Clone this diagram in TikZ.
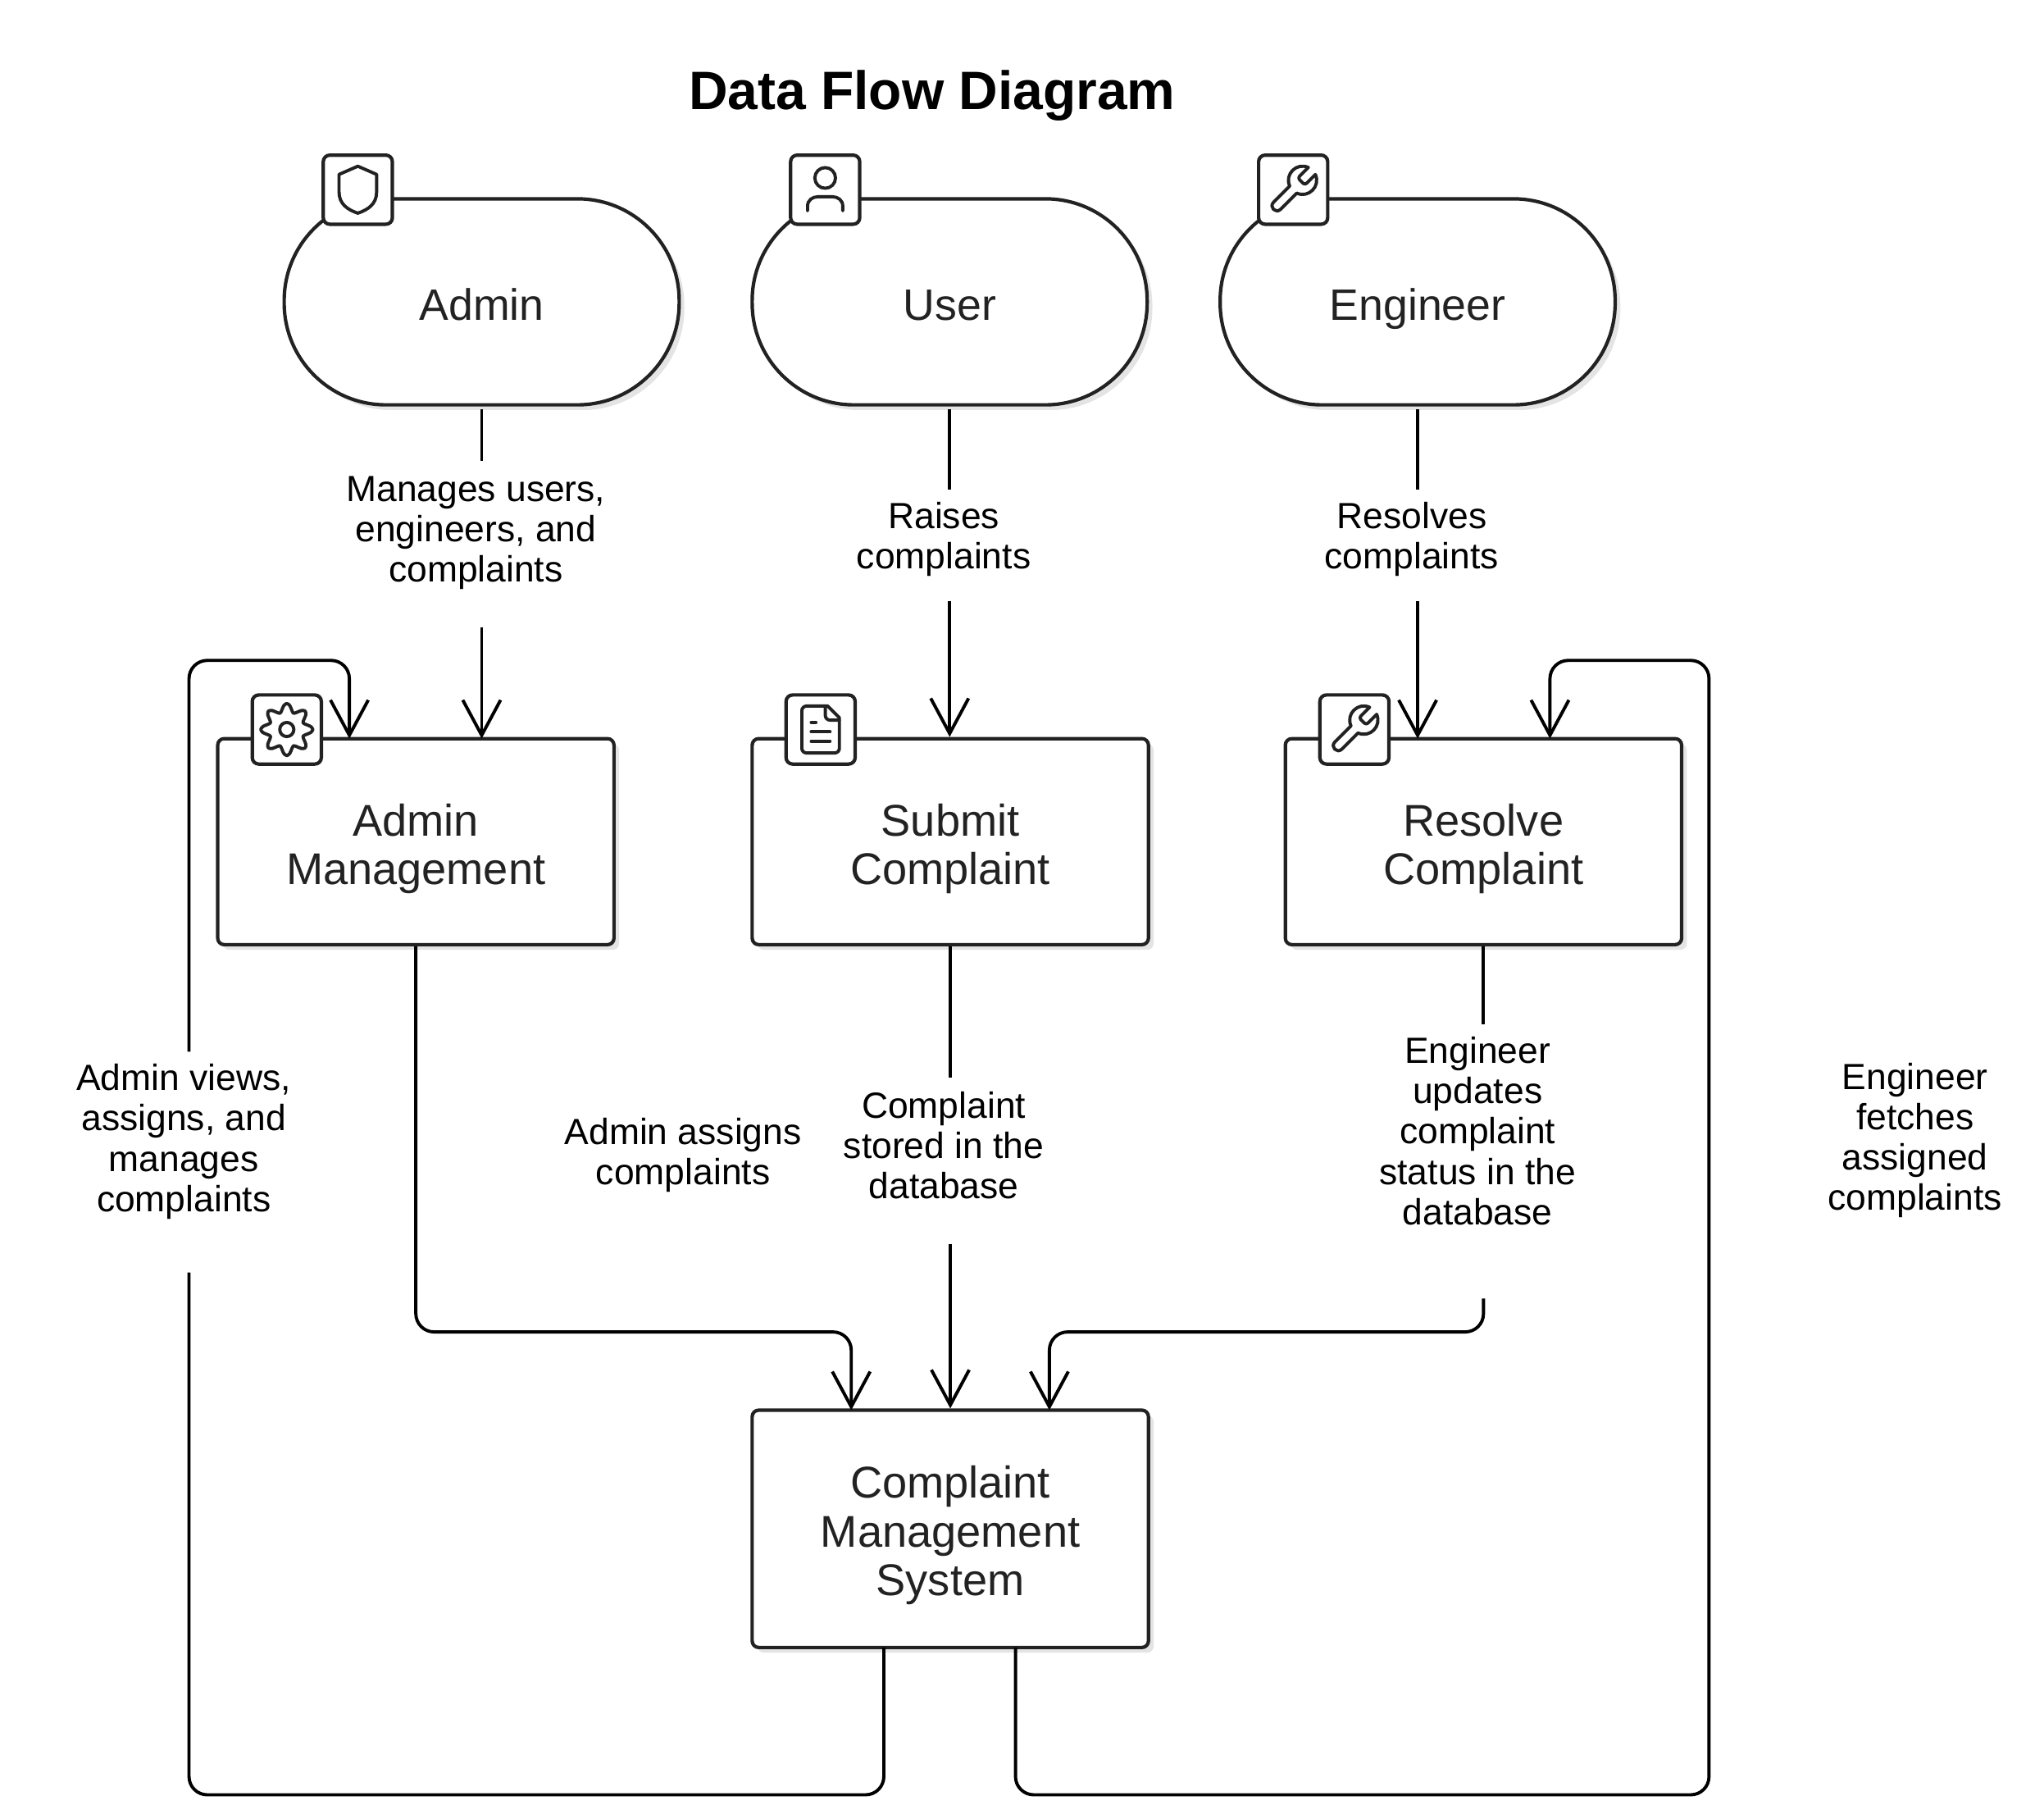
\documentclass[tikz,border=0pt]{standalone}
\usepackage{fontspec}
\setmainfont{Liberation Sans}
\usetikzlibrary{arrows.meta,shadows}

\definecolor{ink}{HTML}{222222}
\definecolor{shade}{HTML}{E4E4E4}

\tikzset{
  boxshadow/.style={general shadow={fill=shade, shadow xshift=0.04cm, shadow yshift=-0.04cm}},
  actor/.style={draw=ink, line width=0.75pt, fill=white, boxshadow, inner sep=0pt, align=center,
    minimum width=3.03cm, minimum height=1.58cm, rounded corners=0.78cm, text=ink,
    text height=0.30cm, text depth=0.02cm, font=\fontsize{9.6}{10.6}\selectfont},
  process/.style={draw=ink, line width=0.75pt, fill=white, boxshadow, inner sep=0pt, align=center,
    minimum width=3.04cm, minimum height=1.58cm, rounded corners=0.05cm, text=ink,
    text height=0.70cm, text depth=0.04cm, font=\fontsize{9.7}{10.6}\selectfont},
  iconbox/.style={draw=ink, line width=0.75pt, fill=white, inner sep=0pt,
    minimum size=0.53cm, rounded corners=0.05cm},
  iconline/.style={draw=ink, line width=0.7pt, line join=round, line cap=round},
  iconat/.style={shift={(#1.center)}, x=0.018cm, y=-0.018cm, shift={(-12,-12)}},
  flowlabel/.style n args={2}{inner xsep=1pt, inner ysep=0pt, align=center, text height=#1, text depth=#2,
    anchor=north, font=\fontsize{7.95}{8.8}\selectfont},
  freelabel/.style={inner sep=0pt, align=center, font=\fontsize{7.95}{8.8}\selectfont},
  flow/.style={line width=0.7pt, rounded corners=0.14cm},
  >={Straight Barb[length=0.27cm, width=0.29cm]}
}

\newcommand{\drawshield}[1]{
  \begin{scope}[iconat=#1]
    \draw [iconline] (20,13) .. controls (20,18) and (16.5,20.5) .. (12,22)
      .. controls (7.5,20.5) and (4,18) .. (4,13) -- (4,5.5) -- (12,2) -- (20,5.5) -- cycle;
  \end{scope}
}
\newcommand{\drawperson}[1]{
  \begin{scope}[iconat=#1]
    \draw [iconline] (12,7) circle [radius=4.4];
    \draw [iconline] (19.5,21) -- (19.5,19) .. controls (19.5,16.5) and (17.5,15) .. (15,15) -- (9,15)
      .. controls (6.5,15) and (4.5,16.5) .. (4.5,19) -- (4.5,21);
  \end{scope}
}
\newcommand{\drawwrench}[1]{
  \begin{scope}[iconat=#1]
    \draw [iconline] (14.7,6.3) .. controls (14.3,6.7) and (14.3,7.3) .. (14.7,7.7) -- (16.3,9.3)
      .. controls (16.7,9.7) and (17.3,9.7) .. (17.7,9.3) -- (21.47,5.53)
      .. controls (23.74,10.57) and (18.57,15.74) .. (13.53,13.47) -- (6.62,20.38)
      .. controls (4.62,22.38) and (1.62,19.38) .. (3.62,17.38) -- (10.53,10.47)
      .. controls (8.26,5.43) and (13.43,0.26) .. (18.47,2.53) -- cycle;
  \end{scope}
}
\newcommand{\drawgear}[1]{
  \begin{scope}[iconat=#1]
    \draw [iconline, shift={(12,12)}] plot [domain=0:352.5, samples=48, smooth cycle] (\x:{9.3+1.8*cos(8*\x)});
    \draw [iconline] (12,12) circle [radius=3];
  \end{scope}
}
\newcommand{\drawpage}[1]{
  \begin{scope}[iconat=#1]
    \draw [iconline] (15,2) -- (6,2) .. controls (4.9,2) and (4,2.9) .. (4,4) -- (4,20)
      .. controls (4,21.1) and (4.9,22) .. (6,22) -- (18,22) .. controls (19.1,22) and (20,21.1) .. (20,20)
      -- (20,7) -- cycle;
    \draw [iconline] (14,2) -- (14,6) .. controls (14,7.1) and (14.9,8) .. (16,8) -- (20,8);
    \draw [iconline] (10,9) -- (8,9);
    \draw [iconline] (16,13) -- (8,13);
    \draw [iconline] (16,17) -- (8,17);
  \end{scope}
}

\begin{document}
\begin{tikzpicture}
\useasboundingbox (0, -0.075) rectangle (15.68, 13.875);

\node [font=\fontsize{11.8}{14}\selectfont\bfseries] (title) at (7.15, 13.14) {Data Flow Diagram};

\node [actor] (admin) at (3.695, 11.56) {Admin};
\node [actor] (user) at (7.285, 11.56) {User};
\node [actor] (engineer) at (10.875, 11.56) {Engineer};

\node [process] (adminmgmt) at (3.19, 7.42) {Admin\\Management};
\node [process] (submit) at (7.29, 7.42) {Submit\\Complaint};
\node [process] (resolve) at (11.38, 7.42) {Resolve\\Complaint};
\node [process, minimum height=1.82cm, text height=1.06cm] (cms) at (7.29, 2.15) {Complaint\\Management\\System};

\node [flowlabel={0.92cm}{0.34cm}] (manages) at (3.65, 10.34) {Manages users,\\engineers, and\\complaints};
\node [flowlabel={0.60cm}{0.24cm}] (raises) at (7.24, 10.12) {Raises\\complaints};
\node [flowlabel={0.60cm}{0.24cm}] (resolves) at (10.83, 10.12) {Resolves\\complaints};
\node [flowlabel={0.92cm}{0.34cm}] (stored) at (7.24, 5.61) {Complaint\\stored in the\\database};
\node [flowlabel={1.53cm}{0.56cm}] (updates) at (11.335, 6.02) {Engineer\\updates\\complaint\\status in the\\database};
\node [flowlabel={1.22cm}{0.46cm}] (views) at (1.41, 5.81) {Admin views,\\assigns, and\\manages\\complaints};
\node [freelabel] (assigns) at (5.24, 5.015) {Admin assigns\\complaints};
\node [freelabel] (fetches) at (14.69, 5.13) {Engineer\\fetches\\assigned\\complaints};

\coordinate (adminin) at (3.695, 8.21);
\coordinate (loopin) at (2.68, 8.21);
\coordinate (loopout) at (6.78, 1.24);
\coordinate (engineerin) at (10.875, 8.21);
\coordinate (fetchin) at (11.89, 8.21);
\coordinate (fetchout) at (7.79, 1.24);
\coordinate (mgmtin) at (6.53, 3.06);
\coordinate (resolvein) at (8.05, 3.06);

\draw [flow, shorten <=0.02cm] (admin.south) -- (admin.south |- manages.north);
\draw [flow, ->] (admin.south |- manages.south) -- (adminin);
\draw [flow, shorten <=0.02cm] (user.south) -- (user.south |- raises.north);
\draw [flow, ->] (user.south |- raises.south) -- (user.south |- submit.north);
\draw [flow, shorten <=0.02cm] (engineer.south) -- (engineer.south |- resolves.north);
\draw [flow, ->] (engineer.south |- resolves.south) -- (engineerin);

\draw [flow, ->] (adminmgmt.south) -- (3.19, 3.66) -- (6.53, 3.66) -- (mgmtin);
\draw [flow] (submit.south) -- (submit.south |- stored.north);
\draw [flow, ->] (submit.south |- stored.south) -- (cms.north);
\draw [flow] (resolve.south) -- (resolve.south |- updates.north);
\draw [flow, ->] (resolve.south |- updates.south) -- (11.38, 3.66) -- (8.05, 3.66) -- (resolvein);

\draw [flow] (loopout) -- (6.78, 0.11) -- (1.45, 0.11) -- (1.45, 0 |- views.south);
\draw [flow, ->] (1.45, 0 |- views.north) -- (1.45, 8.81) -- (2.68, 8.81) -- (loopin);
\draw [flow, ->] (fetchout) -- (7.79, 0.11) -- (13.11, 0.11) -- (13.11, 8.81) -- (11.89, 8.81) -- (fetchin);

\node [iconbox] (adminicon) at (2.745, 12.42) {};
\node [iconbox] (usericon) at (6.33, 12.42) {};
\node [iconbox] (engineericon) at (9.92, 12.42) {};
\node [iconbox] (mgmticon) at (2.20, 8.28) {};
\node [iconbox] (submiticon) at (6.295, 8.28) {};
\node [iconbox] (resolveicon) at (10.39, 8.28) {};

\drawshield{adminicon}
\drawperson{usericon}
\drawwrench{engineericon}
\drawgear{mgmticon}
\drawpage{submiticon}
\drawwrench{resolveicon}

\end{tikzpicture}
\end{document}
